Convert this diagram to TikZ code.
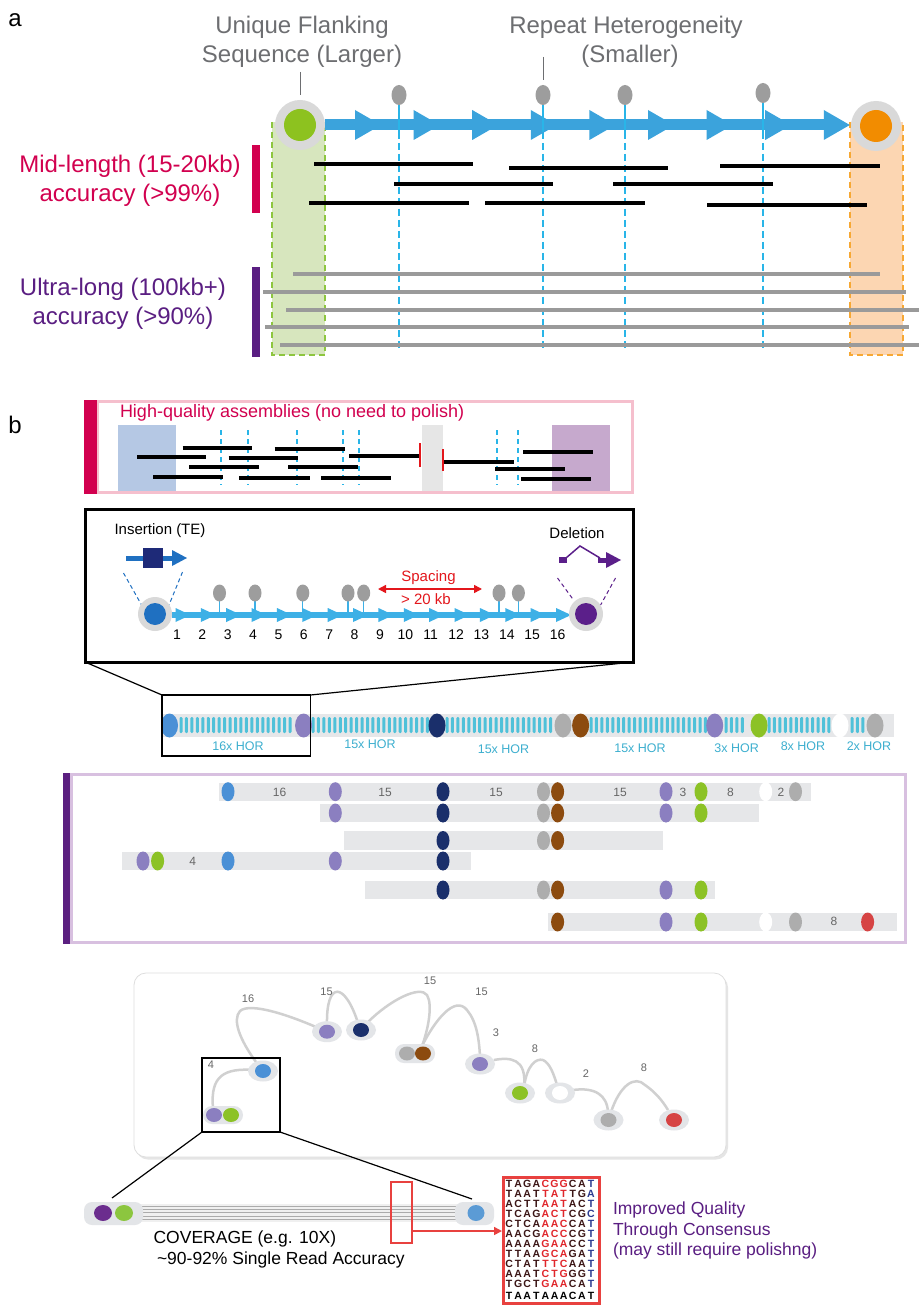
\documentclass[tikz,border=0pt]{standalone}
\usepackage{fontspec}
\setmainfont{Liberation Sans}
\usetikzlibrary{arrows.meta}
\definecolor{crim}{HTML}{D2004F}
\definecolor{purp}{HTML}{5A1E82}
\definecolor{gtext}{HTML}{6D6E71}
\definecolor{ablue}{HTML}{3BA3DC}
\definecolor{bblue}{HTML}{3DB0E6}
\definecolor{dblue}{HTML}{29B5E8}
\definecolor{gfill}{HTML}{D7E6BE}
\definecolor{gdash}{HTML}{8DC63F}
\definecolor{ofill}{HTML}{FCD6B2}
\definecolor{odash}{HTML}{F7A833}
\definecolor{halo}{HTML}{D9D9D9}
\definecolor{gdot}{HTML}{8DC21F}
\definecolor{odot}{HTML}{F28C00}
\definecolor{lolli}{HTML}{9D9D9D}
\definecolor{rgray}{HTML}{9A9A9A}
\definecolor{pinkb}{HTML}{F5BFCD}
\definecolor{rblue}{HTML}{B5C8E4}
\definecolor{rpurp}{HTML}{C6A9CD}
\definecolor{rgrey}{HTML}{E6E6E6}
\definecolor{barg}{HTML}{E6E7E9}
\definecolor{hteal}{HTML}{4FC1D9}
\definecolor{tealt}{HTML}{3DAFCF}
\definecolor{dblu}{HTML}{4A90D6}
\definecolor{dpur}{HTML}{8B7FC0}
\definecolor{dnav}{HTML}{1A2F6B}
\definecolor{dgry}{HTML}{ADADAD}
\definecolor{dbrn}{HTML}{8C4B0F}
\definecolor{dgrn}{HTML}{8CC226}
\definecolor{dred}{HTML}{D64444}
\definecolor{pbox}{HTML}{D8C0E0}
\definecolor{pbar}{HTML}{5B1F80}
\definecolor{ghalo}{HTML}{E3E5E8}
\definecolor{curvec}{HTML}{D0D0D0}
\definecolor{numg}{HTML}{666666}
\definecolor{insb}{HTML}{1F70C1}
\definecolor{insn}{HTML}{1E2A78}
\definecolor{delp}{HTML}{5B1F8A}
\definecolor{redl}{HTML}{E8413F}
\definecolor{sqd}{HTML}{3B1515}
\definecolor{sqr}{HTML}{E0262B}
\definecolor{sqn}{HTML}{2B3990}
\definecolor{spred}{HTML}{E3171C}
\definecolor{bpur}{HTML}{6B2D8E}
\definecolor{bgrn}{HTML}{8CC63F}
\definecolor{bblu}{HTML}{5B9BD5}
\newcommand\fsz[1]{\fontsize{#1}{#1}\selectfont}
\ExplSyntaxOn
\tl_new:N \l_sqtmp_tl
\NewDocumentCommand\sqs{mm}{
  \tl_set:Nx \l_sqtmp_tl {#2}
  \tl_map_inline:Nn \l_sqtmp_tl {\makebox[9.1pt]{\textcolor{#1}{##1}}}
}
\ExplSyntaxOff
\newcommand\sqline[4]{\sqs{sqd}{#1}\sqs{sqr}{#2}\sqs{sqd}{#3}\sqs{sqn}{#4}}
\tikzset{
  txt/.style={inner sep=0pt, outer sep=0pt},
  dashv/.style={dblue, line width=1.4, dash pattern=on 7pt off 4pt},
  readk/.style={black, line width=3.5},
  readg/.style={rgray, line width=3.5},
}
\begin{document}
\begin{tikzpicture}[x=1pt,y=-1pt]
\useasboundingbox (0,0) rectangle (919,1305);
\fill[white] (0,0) rectangle (919,1305);

% ================= part a =================
\node[txt, font=\fsz{24}] (la) at (15,20) {a};
\node[txt, gtext, font=\fsz{24}] (uf1) at (302,27) {Unique Flanking};
\node[txt, gtext, font=\fsz{24}] (uf2) at (302,56) {Sequence (Larger)};
\node[txt, gtext, font=\fsz{24}] (rh1) at (626,27) {Repeat Heterogeneity};
\node[txt, gtext, font=\fsz{24}] (rh2) at (630,56) {(Smaller)};

% columns
\fill[gfill] (272,122) rectangle (325,355);
\draw[gdash, line width=1.8, dash pattern=on 6pt off 4pt] (272,122) -- (272,355) -- (325,355) -- (325,122);
\fill[ofill] (850,122) rectangle (903,355);
\draw[odash, line width=1.8, dash pattern=on 6pt off 4pt] (850,122) -- (850,355) -- (903,355) -- (903,122);

% bars and labels
\fill[crim] (252,145) rectangle (260,213);
\fill[purp] (252,267) rectangle (260,357);
\node[txt, crim, font=\fsz{24}] (ml1) at (130,166) {Mid-length (15-20kb)};
\node[txt, crim, font=\fsz{24}] (ml2) at (130,195) {accuracy (>99\%)};
\node[txt, purp, font=\fsz{24}] (ul1) at (123,289) {Ultra-long (100kb+)};
\node[txt, purp, font=\fsz{24}] (ul2) at (123,318) {accuracy (>90\%)};

% dashed heterogeneity lines
\foreach \x in {399,543,625,763} \draw[dashv] (\x,132) -- (\x,348);

% reads
\foreach \a/\b/\y in {314/473/164, 509/668/168, 720/880/166, 394/553/184, 613/773/184, 309/469/203, 485/645/203, 707/867/205}
  \draw[readk] (\a,\y) -- (\b,\y);
\foreach \a/\b/\y in {293/880/274, 263/906/292, 286/919/310, 265/909/327, 280/919/345}
  \draw[readg] (\a,\y) -- (\b,\y);

% arrow chain
\fill[ablue] (325,119.5) rectangle (840,130.5);
\foreach \t in {381,439.6,498.2,556.8,615.4,674,732.6,791.2,849.8}
  \fill[ablue] ({\t-26},110) -- (\t,125) -- ({\t-26},140) -- cycle;

% lollipops
\foreach \x/\y in {399/95,543/95,625/95,763/93} {
  \draw[dblue, line width=1.3] (\x,\y) -- (\x,132);
  \fill[lolli] (\x,\y) ellipse [x radius=7.5pt, y radius=10pt];
}

% flanking circles
\fill[halo] (300,125) circle [radius=25pt];
\fill[gdot] (300,125) circle [radius=16pt];
\fill[halo] (876,126) circle [radius=25pt];
\fill[odot] (876,126) circle [radius=16pt];
\coordinate (pa0) at (300,72);
\coordinate (pa) at (300,95);
\coordinate (pb0) at (543,57);
\coordinate (pb) at (543,80);
\draw[gtext, line width=1] (pa0) -- (pa);
\draw[gtext, line width=1] (pb0) -- (pb);

% ================= part b =================
\node[txt, font=\fsz{24}] (lb) at (15,425) {b};

% pink box
\fill[rblue] (118,425) rectangle (176,492);
\fill[rgrey] (422,425) rectangle (443,492);
\fill[rpurp] (552,425) rectangle (610,492);
\draw[pinkb, line width=3] (97,401.5) rectangle (632,492.5);
\fill[crim] (84,400) rectangle (97,494);
\node[txt, crim, font=\fsz{18}, anchor=west] (hq) at (120,413) {High-quality assemblies (no need to polish)};
\foreach \x in {220.6,247.8,297.4,343.4,359,497,517.7}
  \draw[dblue, line width=2, dash pattern=on 5pt off 4pt] (\x,430) -- (\x,485);
\foreach \a/\b/\y in {182.5/252/448, 137/206/457, 189/259/467, 153/223/477, 274.6/344.5/449, 228.5/298/458, 288/358/467, 239/310/478, 321/391/478, 349/420/456, 444/514/462, 523/593/452, 495/565/469, 521/591/479}
  \draw[readk] (\a,\y) -- (\b,\y);
\draw[spred, line width=2] (420,443) -- (420,467);
\draw[spred, line width=2] (443,449) -- (443,471);

% black detail box
\draw[black, line width=3] (85,509.5) rectangle (633.5,662);
\node[txt, font=\fsz{15}] (ins) at (160,531) {Insertion (TE)};
\node[txt, font=\fsz{15}] (del) at (577,533) {Deletion};

% insertion symbol
\draw[insb, line width=5] (126,558) -- (173,558);
\fill[insb] (172,550) -- (187,558) -- (172,566) -- cycle;
\fill[insn] (143,548) rectangle (163,568);
\draw[insb, line width=1, dash pattern=on 4pt off 3pt] (123.5,573) -- (141.6,605);
\draw[insb, line width=1, dash pattern=on 4pt off 3pt] (182.5,572) -- (169,605);

% deletion symbol
\fill[delp] (559,557) rectangle (567,563);
\draw[delp, line width=1.5] (566,558) -- (580,546) -- (600,558);
\draw[delp, line width=5] (598,560) -- (608,560);
\fill[delp] (606,552) -- (621,560) -- (606,568) -- cycle;
\draw[delp, line width=1, dash pattern=on 4pt off 3pt] (557.5,578) -- (573.5,600);
\draw[delp, line width=1, dash pattern=on 4pt off 3pt] (615.5,578) -- (600.6,605);

% arrow chain b
\fill[bblue] (172,612) rectangle (560,618);
\foreach \k in {0,...,15} {
  \pgfmathsetmacro\tp{190.5+25.37*\k}
  \pgfmathtruncatemacro\nn{\k+1}
  \fill[bblue] ({\tp-15},608) -- (\tp,615) -- ({\tp-15},622) -- cycle;
  \node[txt, font=\fsz{14}, name=num\nn] at ({\tp-13.5},635) {\nn};
}
\foreach \x in {219.5,255,302.8,348,363.7,499,518.4} {
  \draw[bblue, line width=1.3] (\x,598) -- (\x,614);
  \fill[lolli] (\x,593) ellipse [x radius=6.5pt, y radius=8.5pt];
}
\fill[halo] (155,614) circle [radius=17pt];
\fill[insb] (155,614) circle [radius=11pt];
\fill[halo] (586,614) circle [radius=17pt];
\fill[delp] (586,614) circle [radius=11pt];

% spacing
\coordinate (sa) at (378,589);
\coordinate (sb) at (482,589);
\draw[spred, line width=1.5, {Triangle[length=8pt,width=8pt]}-{Triangle[length=8pt,width=8pt]}] (sa) -- (sb);
\node[txt, spred, font=\fsz{15}] (sp1) at (428.5,578) {Spacing};
\node[txt, spred, font=\fsz{15}] (sp2) at (426,599) {> 20 kb};

% HOR bar
\fill[barg] (162,714) rectangle (894,737);
\foreach \s/\n in {181/20, 313/21, 447/19, 591/21, 726/3, 769/11, 852/2} {
  \foreach \i in {0,...,\n} {
    \pgfmathsetmacro\xx{\s+5.45*\i}
    \fill[hteal, rounded corners=1.2pt] ({\xx-1.5},717) rectangle ({\xx+1.5},733);
  }
}
\foreach \x/\c in {169.5/dblu, 303.6/dpur, 437/dnav, 563/dgry, 580.6/dbrn, 714.7/dpur, 759/dgrn, 840/white, 875/dgry}
  \fill[\c] (\x,725.5) ellipse [x radius=8.5pt, y radius=12pt];
\foreach \x/\y/\t [count=\q] in {238/746/16x HOR, 370/744/15x HOR, 503.5/749/15x HOR, 640/748/15x HOR, 736.7/748/3x HOR, 803/746/8x HOR, 869/746/2x HOR}
  \node[txt, tealt, font=\fsz{12.5}, name=hor\q] at (\x,\y) {\t};
\draw[black, line width=1.2] (162,695) rectangle (310.5,756);
\coordinate (zl0) at (85,662);
\coordinate (zr0) at (633.5,662);
\coordinate (zl1) at (162,695);
\coordinate (zl2) at (310.5,695);
\draw[black, line width=1.2] (zl0) -- (zl1);
\draw[black, line width=1.2] (zr0) -- (zl2);

% purple box
\draw[pbox, line width=3] (71,774.5) rectangle (905,942.5);
\fill[pbar] (63,773) rectangle (70,944);
\fill[barg] (218.8,782.7) rectangle (810.7,800.7);
\fill[barg] (320,804) rectangle (759,822.3);
\fill[barg] (343.5,831) rectangle (662.7,850);
\fill[barg] (122,852) rectangle (471,870);
\fill[barg] (365,880.7) rectangle (714.7,899.3);
\fill[barg] (547.8,913) rectangle (897.4,931);
\tikzset{pdot/.style={x radius=6.5pt, y radius=9.5pt}}
\foreach \x/\c in {228/dblu, 335.3/dpur, 443/dnav, 543.5/dgry, 557.6/dbrn, 666/dpur, 701/dgrn, 765.7/white, 795.5/dgry}
  \fill[\c] (\x,791.7) ellipse [pdot];
\foreach \x/\c in {335.3/dpur, 443/dnav, 543.5/dgry, 557.6/dbrn, 666/dpur, 701/dgrn}
  \fill[\c] (\x,813) ellipse [pdot];
\foreach \x/\c in {443/dnav, 543.5/dgry, 557.6/dbrn}
  \fill[\c] (\x,840.5) ellipse [pdot];
\foreach \x/\c in {143/dpur, 157.6/dgrn, 228/dblu, 335.3/dpur, 443/dnav}
  \fill[\c] (\x,861) ellipse [pdot];
\foreach \x/\c in {443/dnav, 543.5/dgry, 557.6/dbrn, 666/dpur, 701/dgrn}
  \fill[\c] (\x,890) ellipse [pdot];
\foreach \x/\c in {557.6/dbrn, 666/dpur, 701/dgrn, 765.7/white, 795.5/dgry, 867.6/dred}
  \fill[\c] (\x,922) ellipse [pdot];
\foreach \x/\y/\t [count=\q] in {279.5/792/16, 385/792/15, 496/792/15, 620/792/15, 683/792/3, 730.5/792/8, 781/792/2, 192.8/861/4, 834/921/8}
  \node[txt, numg, font=\fsz{12}, name=pn\q] at (\x,\y) {\t};

% graph panel
\fill[black!10, rounded corners=12pt] (136,975.5) rectangle (728,1159.5);
\filldraw[fill=white, draw=black!13, line width=0.8, rounded corners=12pt] (134,973) rectangle (726,1157);
\begin{scope}[curvec, line width=2.5]
\draw (256,1062) .. controls (240,1040) and (232,1020) .. (240,1011) .. controls (250,1002) and (290,1015) .. (325,1031);
\draw (327,1025) .. controls (326,980) and (345,982) .. (358,1023);
\draw (368,1022) .. controls (390,1000) and (420,985) .. (427,995) .. controls (433,1005) and (428,1030) .. (422,1046);
\draw (422,1046) .. controls (435,1020) and (455,995) .. (467,1010) .. controls (477,1022) and (479,1040) .. (480,1056);
\draw (494,1060) .. controls (510,1057) and (527,1058) .. (524,1087);
\draw (524,1087) .. controls (527,1065) and (536,1058) .. (543,1060) .. controls (550,1063) and (554,1075) .. (557,1085);
\draw (573,1090) .. controls (595,1087) and (607,1095) .. (608,1112);
\draw (611,1112) .. controls (620,1085) and (635,1075) .. (645,1085) .. controls (655,1092) and (662,1100) .. (668,1110);
\draw (254,1070) .. controls (225,1068) and (210,1075) .. (213,1108);
\end{scope}
\foreach \x/\y/\c in {327/1031.7/dpur, 361/1030/dnav, 480/1064/dpur, 520/1093/dgrn, 560/1093/white, 608.5/1120/dgry, 674/1120/dred, 263/1071/dblu} {
  \fill[ghalo] (\x,\y) ellipse [x radius=15pt, y radius=10.5pt];
  \fill[\c] (\x,\y) ellipse [x radius=8pt, y radius=7pt];
}
\fill[ghalo, rounded corners=9pt] (395,1044) rectangle (435,1063);
\fill[dgry] (407,1053.5) ellipse [x radius=8pt, y radius=7pt];
\fill[dbrn] (423,1053.5) ellipse [x radius=8pt, y radius=7pt];
\fill[ghalo, rounded corners=9pt] (203,1106) rectangle (243,1124);
\fill[dpur] (214,1115) ellipse [x radius=8pt, y radius=7pt];
\fill[dgrn] (231,1115) ellipse [x radius=8pt, y radius=7pt];
\foreach \x/\y/\t [count=\q] in {248/999/16, 326.5/991.7/15, 430/980.7/15, 481.5/991.7/15, 496/1032.7/3, 535/1049/8, 586/1074/2, 644/1068/8, 211/1065/4}
  \node[txt, numg, font=\fsz{11}, name=gl\q] at (\x,\y) {\t};
\draw[black, line width=1.5] (202,1058) rectangle (280,1132);

% bottom consensus
\coordinate (bl1) at (202,1132);
\coordinate (bl2) at (280,1132);
\coordinate (bp1) at (112,1198);
\coordinate (bp2) at (472,1199);
\draw[black, line width=1.2] (bl1) -- (bp1);
\draw[black, line width=1.2] (bl2) -- (bp2);
\fill[black!6] (140,1204) rectangle (458,1222);
\foreach \y in {1206,1209.4,1212.8,1216.2,1219.6}
  \draw[black!33, line width=0.8] (140,\y) -- (458,\y);
\fill[ghalo, rounded corners=8pt] (84,1202) rectangle (143,1225);
\fill[bpur] (103,1213) ellipse [x radius=9pt, y radius=8pt];
\fill[bgrn] (124,1213) ellipse [x radius=9pt, y radius=8pt];
\fill[ghalo, rounded corners=8pt] (455,1202) rectangle (494,1225);
\fill[bblu] (476,1213) ellipse [x radius=8.5pt, y radius=8pt];
\draw[redl, line width=2] (390.5,1182) rectangle (411.6,1243);
\draw[redl, line width=3] (503.5,1177.5) rectangle (599,1303);
\coordinate (ra) at (411.6,1231);
\coordinate (rb) at (502,1231);
\draw[redl, line width=1.5, -{Triangle[length=8pt,width=8pt]}] (ra) -- (rb);
\node[txt, font=\fsz{17.5}, anchor=west] (cov1) at (153.6,1239) {COVERAGE (e.g. 10X)};
\node[txt, font=\fsz{17.5}, anchor=west] (cov2) at (157,1260) {\textasciitilde90-92\% Single Read Accuracy};
\node[txt, purp, font=\fsz{17.5}, anchor=west] (iq1) at (613,1210) {Improved Quality};
\node[txt, purp, font=\fsz{17.5}, anchor=west] (iq2) at (613,1231) {Through Consensus};
\node[txt, purp, font=\fsz{17.5}, anchor=west] (iq3) at (613,1251) {(may still require polishng)};
\foreach \y/\a/\b/\c/\d [count=\q] in {
  1184/TAGA/CGG/CA/T, 1194/TAAT/TAT/TG/A, 1204/ACTT/AAT/AC/T, 1214/TCAG/ACT/CG/C,
  1224/CTCA/AAC/CA/T, 1234/AACG/ACC/CG/T, 1244/AAAA/GAA/CC/T, 1254/TTAA/GCA/GA/T,
  1264/CTAT/TTC/AA/T, 1274/AAAT/CTG/GG/T, 1284/TGCT/GAA/CA/T}
  \node[txt, font=\bfseries\fsz{10.5}, anchor=west, name=sq\q] at (504.5,\y) {\sqline{\a}{\b}{\c}{\d}};
\node[txt, font=\bfseries\fsz{10.5}, anchor=west] (sq12) at (504.5,1296) {\sqs{black}{TAATAAACAT}};
\end{tikzpicture}
\end{document}
